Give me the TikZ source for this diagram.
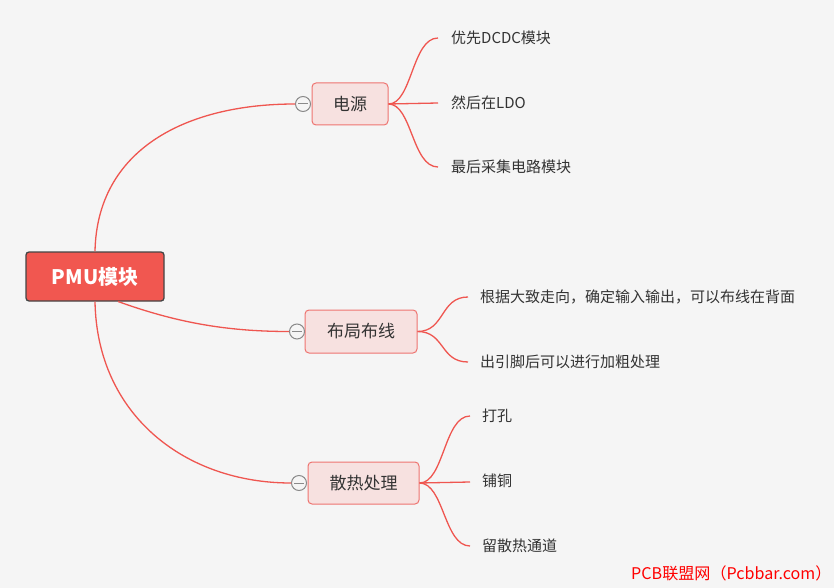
\documentclass[tikz,border=0pt]{standalone}
\usepackage{fontspec}
\setmainfont{Noto Sans CJK SC}
\definecolor{bgc}{HTML}{F5F5F5}
\definecolor{rootfill}{HTML}{F15750}
\definecolor{rootdraw}{HTML}{454545}
\definecolor{boxfill}{HTML}{F7E1E0}
\definecolor{boxdraw}{HTML}{EE7470}
\definecolor{linec}{HTML}{EF5650}
\definecolor{txt}{HTML}{333333}
\definecolor{circd}{HTML}{8A8A8A}
\begin{document}
\begin{tikzpicture}[x=1pt,y=-1pt,
  rootbox/.style={draw=rootdraw,fill=rootfill,line width=1.3pt,rounded corners=3pt,
    minimum width=138pt,minimum height=49pt,inner sep=0pt,text=white,
    font=\fontsize{20}{24}\selectfont\bfseries},
  topicbox/.style={draw=boxdraw,fill=boxfill,line width=1pt,rounded corners=4pt,
    minimum height=42pt,inner sep=0pt,text=txt,font=\fontsize{17}{20}\selectfont},
  leaf/.style={anchor=west,inner sep=0pt,text=txt,font=\fontsize{15}{18}\selectfont},
  conn/.style={draw=linec,line width=1.3pt},
  foldc/.style={circle,draw=circd,fill=bgc,line width=1pt,minimum size=15pt,inner sep=0pt,
    path picture={\draw[circd,line width=1pt] ([xshift=-5pt]path picture bounding box.center) -- ([xshift=5pt]path picture bounding box.center);}}
]
\fill[bgc] (0,0) rectangle (834,588);
\useasboundingbox (0,0) rectangle (834,588);

% root
\node[rootbox] (root) at (95,276.5) {PMU模块};
\coordinate (rootmid) at (118,301.5);

% topics
\node[topicbox,minimum width=76pt] (t1) at (350,104) {电源};
\node[topicbox,minimum width=112pt,minimum height=43pt] (t2) at (361,331.5) {布局布线};
\node[topicbox,minimum width=111pt] (t3) at (363.5,483) {散热处理};

% fold circles
\node[foldc] (c1) at (303,104) {};
\node[foldc] (c2) at (297,331.5) {};
\node[foldc] (c3) at (299,483) {};

% root connectors
\draw[conn] (root.north) .. controls (97,150) and (185,104) .. (c1.west);
\draw[conn] (rootmid) .. controls (175,322) and (225,331.5) .. (c2.west);
\draw[conn] (root.south) .. controls (97,415) and (185,483) .. (c3.west);

% leaves of t1
\coordinate (e11) at (438,38);
\coordinate (e12) at (438,103);
\coordinate (e13) at (438,167);
\node[leaf] (l11) at (451,38) {优先DCDC模块};
\node[leaf] (l12) at (451,103) {然后在LDO};
\node[leaf] (l13) at (451,167) {最后采集电路模块};
\draw[conn] (t1.east) .. controls (412,104) and (412,38) .. (e11);
\draw[conn] (t1.east) -- (e12);
\draw[conn] (t1.east) .. controls (412,104) and (412,167) .. (e13);

% leaves of t2
\coordinate (e21) at (468,297);
\coordinate (e22) at (468,362);
\node[leaf] (l21) at (480,297) {根据大致走向，确定输入输出，可以布线在背面};
\node[leaf] (l22) at (480,362) {出引脚后可以进行加粗处理};
\draw[conn] (t2.east) .. controls (445,331.5) and (440,297) .. (e21);
\draw[conn] (t2.east) .. controls (445,331.5) and (440,362) .. (e22);

% leaves of t3
\coordinate (e31) at (470,416);
\coordinate (e32) at (470,482);
\coordinate (e33) at (470,546);
\node[leaf] (l31) at (482,416) {打孔};
\node[leaf] (l32) at (482,481) {铺铜};
\node[leaf] (l33) at (482,546) {留散热通道};
\draw[conn] (t3.east) .. controls (444,483) and (444,416) .. (e31);
\draw[conn] (t3.east) -- (e32);
\draw[conn] (t3.east) .. controls (444,483) and (444,546) .. (e33);

% watermark
\node[anchor=west,inner sep=0pt,text=red,font=\fontsize{16.1}{19}\selectfont] (wm) at (631,573) {PCB联盟网（Pcbbar.com）};
\end{tikzpicture}
\end{document}
